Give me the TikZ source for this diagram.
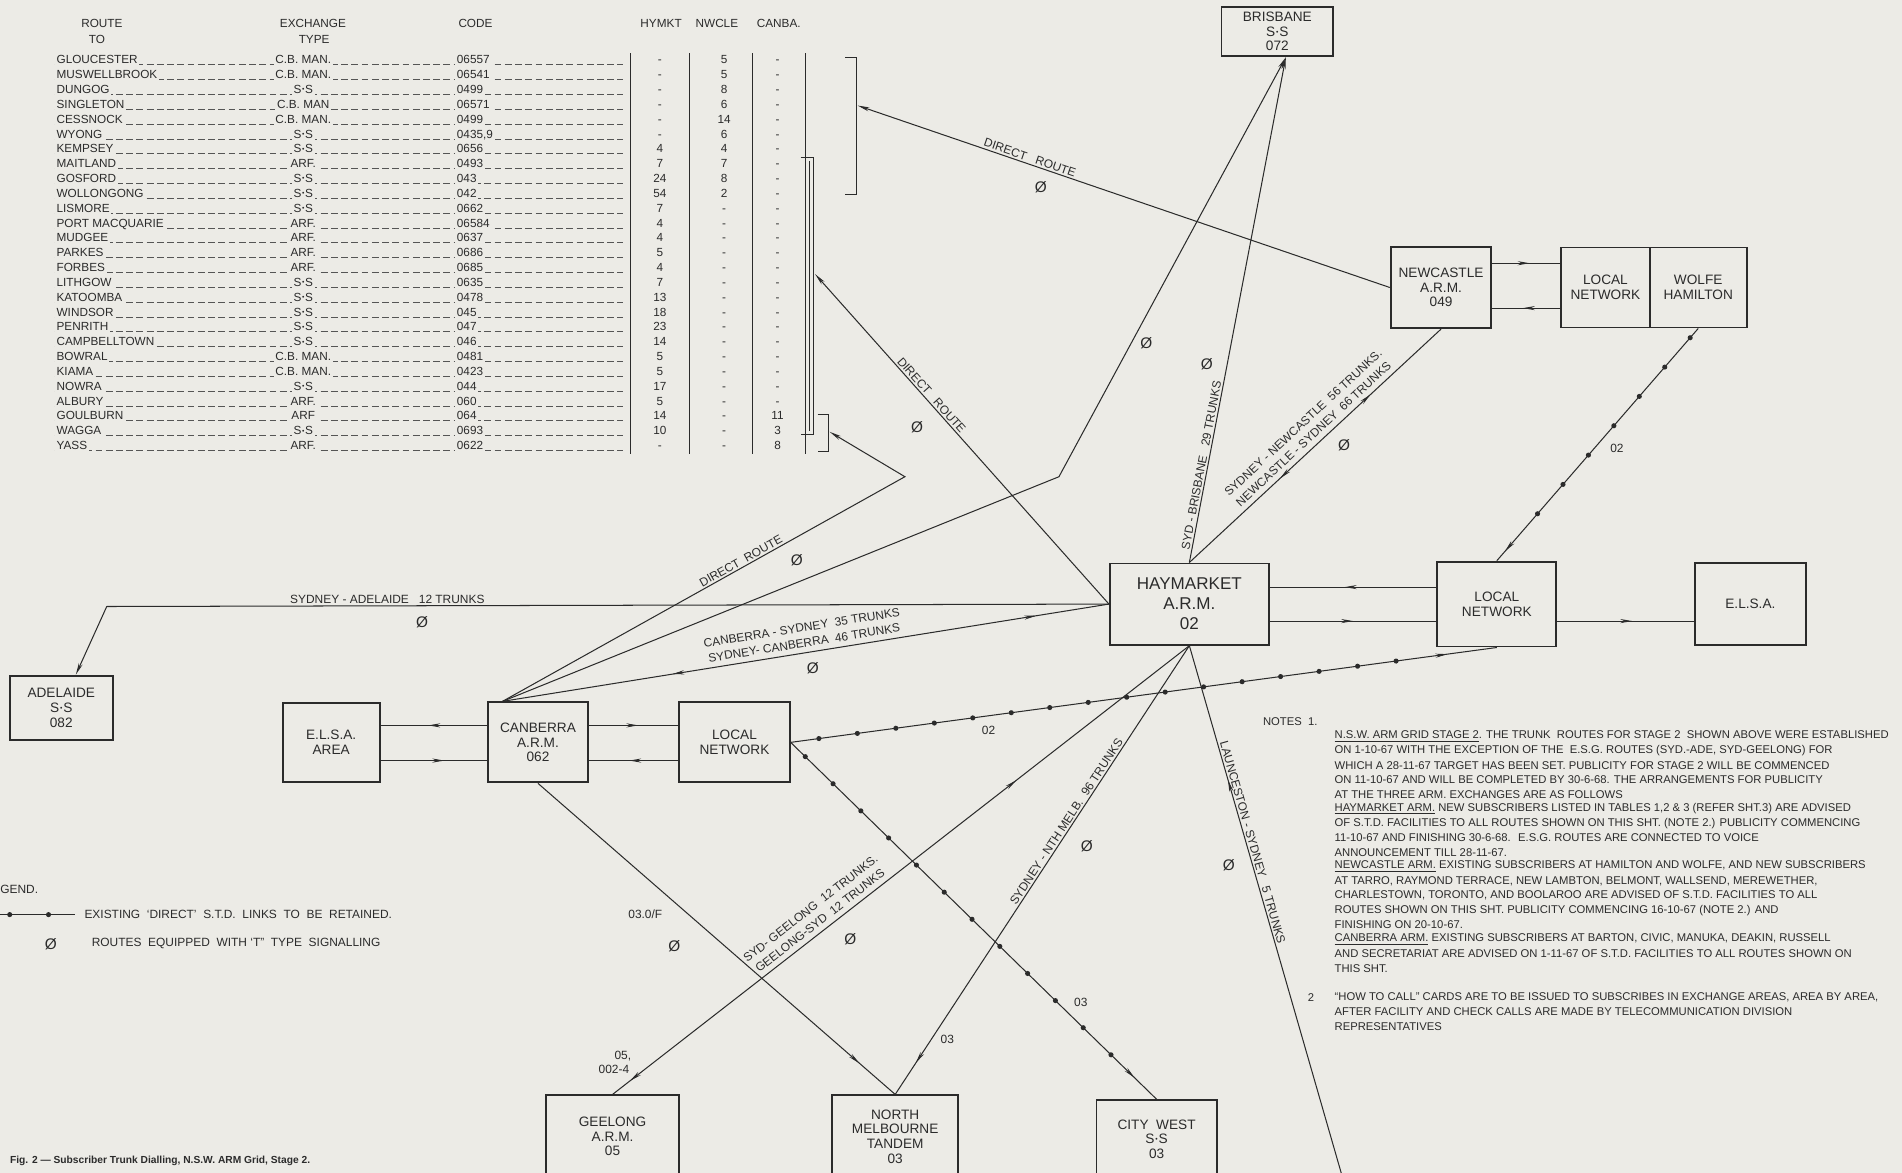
\documentclass[tikz,border=0pt]{standalone}
\usepackage{fontspec}
\setmainfont{Liberation Sans}
\usetikzlibrary{arrows.meta,positioning,calc,decorations.markings}

\definecolor{paper}{HTML}{ECEBE6}
\definecolor{ink}{HTML}{2B2B2B}

\newcommand{\sxs}{S\kern.06em\raisebox{.28ex}{\fontsize{4}{4}\selectfont •}\kern.06em S}
\newcommand{\nul}{{\fontsize{9}{9}\selectfont Ø}}

\tikzset{
  box/.style={draw=ink, line width=1.1pt, align=center, text=ink, inner sep=1pt, font=\fontsize{8}{8.6}\selectfont},
  link/.style={draw=ink, line width=0.6pt},
  endtip/.style={-{Stealth[length=7pt,width=2.4pt]}},
  ar/.style={postaction={decorate,decoration={markings,mark=at position #1 with {\arrow{Stealth[length=7pt,width=2.4pt]}}}}},
  ra/.style={postaction={decorate,decoration={markings,mark=at position #1 with {\arrowreversed{Stealth[length=7pt,width=2.4pt]}}}}},
  dotlink/.style={postaction={decorate,decoration={markings,mark=between positions 0.04 and 0.9 step 0.8cm with {\fill[ink] (0,0) circle (1.5pt);}}}},
  lbl/.style={font=\fontsize{7}{9}\selectfont, text=ink, inner sep=1pt, align=center},
  tbl/.style={font=\fontsize{6.9}{8}\selectfont, text=ink, inner xsep=1pt, inner ysep=0.3pt, text height=5pt, text depth=1.2pt},
  note/.style={font=\fontsize{6.6}{8}\selectfont, text=ink, inner sep=0pt, anchor=west},
  leader/.style={draw=ink!80, line width=0.4pt, dash pattern=on 4pt off 2pt},
}

\begin{document}
\begin{tikzpicture}[x=0.025cm, y=-0.025cm]
  \useasboundingbox (0,0) rectangle (1568,967);
  \fill[paper] (0,0) rectangle (1568,967);

  % Table of routes
  \node[tbl] (hRoute) at (84,20) {ROUTE};
  \node[tbl] (hTo) at (80,33) {TO};
  \node[tbl] (hExch) at (258,20) {EXCHANGE};
  \node[tbl] (hType) at (259,33) {TYPE};
  \node[tbl] (hCode) at (392,20) {CODE};
  \node[tbl] (hHym) at (545,20) {HYMKT};
  \node[tbl] (hNwc) at (591,20) {NWCLE};
  \node[tbl] (hCan) at (642,20) {CANBA.};
  \foreach \nm/\ty/\cd/\hy/\nw/\cb [count=\i from 0] in {
    GLOUCESTER/C.B. MAN./06557/-/5/-,
    MUSWELLBROOK/C.B. MAN./06541/-/5/-,
    DUNGOG/\sxs/0499/-/8/-,
    SINGLETON/C.B. MAN/06571/-/6/-,
    CESSNOCK/C.B. MAN./0499/-/14/-,
    WYONG/\sxs/{0435,9}/-/6/-,
    KEMPSEY/\sxs/0656/4/4/-,
    MAITLAND/ARF./0493/7/7/-,
    GOSFORD/\sxs/043/24/8/-,
    WOLLONGONG/\sxs/042/54/2/-,
    LISMORE/\sxs/0662/7/-/-,
    PORT MACQUARIE/ARF./06584/4/-/-,
    MUDGEE/ARF./0637/4/-/-,
    PARKES/ARF./0686/5/-/-,
    FORBES/ARF./0685/4/-/-,
    LITHGOW/\sxs/0635/7/-/-,
    KATOOMBA/\sxs/0478/13/-/-,
    WINDSOR/\sxs/045/18/-/-,
    PENRITH/\sxs/047/23/-/-,
    CAMPBELLTOWN/\sxs/046/14/-/-,
    BOWRAL/C.B. MAN./0481/5/-/-,
    KIAMA/C.B. MAN./0423/5/-/-,
    NOWRA/\sxs/044/17/-/-,
    ALBURY/ARF./060/5/-/-,
    GOULBURN/ARF/064/14/-/11,
    WAGGA/\sxs/0693/10/-/3,
    YASS/ARF./0622/-/-/8} {
    \pgfmathsetmacro\ry{50+12.23*\i}
    \draw[leader] (45,\ry+3.4) -- (514,\ry+3.4);
    \node[tbl, anchor=west, fill=paper] (rn\i) at (45,\ry) {\nm};
    \node[tbl, fill=paper] (rt\i) at (250,\ry) {\ty};
    \node[tbl, anchor=west, fill=paper] (rc\i) at (375,\ry) {\cd};
    \node[tbl] (rh\i) at (544,\ry) {\hy};
    \node[tbl] (rw\i) at (597,\ry) {\nw};
    \node[tbl] (rb\i) at (641,\ry) {\cb};
  }
  \foreach \x in {520,568,620,664}
    \draw[link, line width=0.5pt] (\x,44) -- (\x,374);

  % brackets
  \draw[link] (697,47) -- (706,47) -- (706,160) -- (697,160);
  \draw[link] (660,130) -- (671,130) -- (671,358) -- (660,358);
  \draw[link] (667,133) -- (667,355);
  \draw[link] (674,342) -- (683,342) -- (683,372) -- (674,372);
  \coordinate (brA) at (707,87);
  \coordinate (brB) at (672,226);
  \coordinate (brC) at (684,356);

  % exchanges
  \node[box, minimum width=2.3cm, minimum height=1.025cm] (brisbane) at (1053,26) {BRISBANE\\\sxs\\072};
  \node[box, minimum width=2.075cm, minimum height=1.675cm] (newcastle) at (1188,237) {NEWCASTLE\\A.R.M.\\049};
  \node[box, minimum width=1.825cm, minimum height=1.65cm] (lnn) at (1323.5,237) {LOCAL\\NETWORK};
  \node[box, minimum width=2cm, minimum height=1.65cm] (wolfe) at (1400,237) {WOLFE\\HAMILTON};
  \node[box, minimum width=3.275cm, minimum height=1.675cm, font=\fontsize{10}{11.7}\selectfont] (haymarket) at (980.5,498) {HAYMARKET\\A.R.M.\\02};
  \node[box, minimum width=2.45cm, minimum height=1.75cm] (lnh) at (1234,498) {LOCAL\\NETWORK};
  \node[box, minimum width=2.3cm, minimum height=1.7cm] (elsa) at (1443,498) {E.L.S.A.};
  \node[box, minimum width=2.125cm, minimum height=1.325cm] (adelaide) at (50.5,583.5) {ADELAIDE\\\sxs\\082};
  \node[box, minimum width=2cm, minimum height=1.625cm] (elsaarea) at (273,612) {E.L.S.A.\\AREA};
  \node[box, minimum width=2.075cm, minimum height=1.65cm] (canberra) at (443.5,612) {CANBERRA\\A.R.M.\\062};
  \node[box, minimum width=2.275cm, minimum height=1.65cm] (lnc) at (605.5,612) {LOCAL\\NETWORK};
  \node[box, minimum width=2.75cm, minimum height=1.7cm] (geelong) at (505,937) {GEELONG\\A.R.M.\\05};
  \node[box, minimum width=2.6cm, minimum height=1.7cm] (nm) at (738,937) {NORTH\\MELBOURNE\\TANDEM\\03};
  \node[box, minimum width=2.475cm, minimum height=1.6cm] (citywest) at (953.5,939) {CITY \ WEST\\\sxs\\03};

  \coordinate (cbr) at ($(canberra.north west)+(13,0)$);
  \coordinate (bsb) at ($(brisbane.south)+(7,0)$);
  \coordinate (bendA) at (746,393);
  \coordinate (bendB) at (873,393);
  \coordinate (adlbend) at (88,500);
  \coordinate (adltop) at ($(adelaide.north)+(12,0)$);
  \coordinate (lncend) at (1108,975);

  % local pairs
  \draw[link, ar=0.55] ([yshift=0.5cm]newcastle.east) -- ([yshift=0.5cm]lnn.west);
  \draw[link, ra=0.45] ([yshift=-0.425cm]newcastle.east) -- ([yshift=-0.425cm]lnn.west);
  \draw[link, ra=0.45] ([yshift=0.35cm]haymarket.east) -- ([yshift=0.35cm]lnh.west);
  \draw[link, ar=0.5] ([yshift=-0.35cm]haymarket.east) -- ([yshift=-0.35cm]lnh.west);
  \draw[link, ar=0.55] ([yshift=-0.35cm]lnh.east) -- ([yshift=-0.35cm]elsa.west);
  \draw[link, ra=0.45] ([yshift=0.35cm]elsaarea.east) -- ([yshift=0.35cm]canberra.west);
  \draw[link, ar=0.6] ([yshift=-0.375cm]elsaarea.east) -- ([yshift=-0.375cm]canberra.west);
  \draw[link, ar=0.55] ([yshift=0.35cm]canberra.east) -- ([yshift=0.35cm]lnc.west);
  \draw[link, ra=0.45] ([yshift=-0.375cm]canberra.east) -- ([yshift=-0.375cm]lnc.west);

  % trunk routes
  \draw[link, endtip] (newcastle.west) -- node[lbl, sloped, above, pos=0.68] (lDirA) {DIRECT \ \ ROUTE} (brA);
  \draw[link, endtip] (haymarket.west) -- node[lbl, sloped, above, pos=0.62] (lDirB) {DIRECT \ \ ROUTE} (brB);
  \draw[link, endtip] (cbr) -- node[lbl, sloped, above, pos=0.6] (lDirC) {DIRECT \ ROUTE} (bendA) -- (brC);
  \draw[link, endtip] (cbr) -- (bendB) -- (bsb);
  \draw[link, ar=0.88, ra=0.28] (cbr) -- node[lbl, sloped, above=2pt, pos=0.5] (lCan) {CANBERRA - SYDNEY \ 35 TRUNKS\\SYDNEY- CANBERRA \ 46 TRUNKS} (haymarket.west);
  \draw[link, endtip] (haymarket.west) -- node[lbl, above, pos=0.72] (lAde) {SYDNEY - ADELAIDE \ \ 12 TRUNKS} (adlbend) -- (adltop);
  \draw[link, endtip] (haymarket.north) -- node[lbl, sloped, above, pos=0.19] (lBri) {SYD - BRISBANE \ \ 29 TRUNKS} (bsb);
  \draw[link, ar=0.72, ra=0.36] (haymarket.north) -- node[lbl, sloped, above=2pt, pos=0.52] (lNew) {SYDNEY - NEWCASTLE \ 56 TRUNKS.\\NEWCASTLE - SYDNEY \ 66 TRUNKS} (newcastle.south);
  \draw[link, ra=0.3, ar=0.97] (haymarket.south) -- node[lbl, sloped, above=2pt, pos=0.63] (lGee) {SYD- GEELONG \ 12 TRUNKS.\\GEELONG-SYD \ 12 TRUNKS} (geelong.north);
  \draw[link, ar=0.93] (haymarket.south) -- node[lbl, sloped, above, pos=0.4] (lNtm) {SYDNEY - NTH MELB. \ 96 TRUNKS} (nm.north);
  \draw[link, ra=0.25] (haymarket.south) -- node[lbl, sloped, above, pos=0.37] (lLau) {LAUNCESTON - SYDNEY \ \ 5 TRUNKS} (lncend);
  \draw[link, ar=0.9] (canberra.south) -- (nm.north);

  % existing direct links
  \draw[link, dotlink, ar=0.96] (wolfe.south) -- (lnh.north);
  \draw[link, dotlink, ar=0.93] (lnc.east) -- (lnh.south);
  \draw[link, dotlink, ar=0.94] (lnc.east) -- (citywest.north);

  % codes and T-signalling marks
  \node[lbl] (c02a) at (1333,370) {02};
  \node[lbl] (c02b) at (815,602) {02};
  \node[lbl] (c03a) at (891,826) {03};
  \node[lbl] (c03b) at (781,857) {03};
  \node[lbl] (c03f) at (532,754) {03.0/F};
  \node[lbl, align=right, font=\fontsize{7}{8.4}\selectfont, anchor=east] (c05) at (522,876) {05,\\002-4\,};
  \foreach \x/\y [count=\k] in {858/154, 756/352, 657/462, 945/283, 995/300, 1108/367, 348/513,
      670/551, 701/774, 896/698, 1013/713, 556/780}
    \node[text=ink, inner sep=0pt] (phi\k) at (\x,\y) {\nul};

  % legend
  \node[lbl, anchor=west, inner sep=0pt] (legend) at (0,733) {GEND.};
  \draw[link] (-2,754) -- (62,754);
  \fill[ink] (8,754) circle (1.5pt) (40,754) circle (1.5pt);
  \node[lbl, anchor=west] (legA) at (68,754) {EXISTING \ `DIRECT' \ S.T.D. \ LINKS \ TO \ BE \ RETAINED.};
  \node[text=ink, inner sep=0pt] (legPhi) at (42,778) {\nul};
  \node[lbl, anchor=west] (legB) at (74,778) {ROUTES \ EQUIPPED \ WITH `T'' \ TYPE \ SIGNALLING};

  % notes
  \node[note] (notes) at (1041,595) {NOTES \ 1.};
  \foreach \nt [count=\i from 0] in {
    {\underline{N.S.W. ARM GRID STAGE 2}. THE TRUNK \ ROUTES FOR STAGE 2 \ SHOWN ABOVE WERE ESTABLISHED},
    {ON 1-10-67 WITH THE EXCEPTION OF THE \ E.S.G. ROUTES (SYD.-ADE, SYD-GEELONG) FOR},
    {WHICH A 28-11-67 TARGET HAS BEEN SET. PUBLICITY FOR STAGE 2 WILL BE COMMENCED},
    {ON 11-10-67 AND WILL BE COMPLETED BY 30-6-68. THE ARRANGEMENTS FOR PUBLICITY},
    {AT THE THREE ARM. EXCHANGES ARE AS FOLLOWS},
    {\underline{HAYMARKET ARM.} NEW SUBSCRIBERS LISTED IN TABLES 1,2 \& 3 (REFER SHT.3) ARE ADVISED},
    {OF S.T.D. FACILITIES TO ALL ROUTES SHOWN ON THIS SHT. (NOTE 2.) PUBLICITY COMMENCING},
    {11-10-67 AND FINISHING 30-6-68. \ E.S.G. ROUTES ARE CONNECTED TO VOICE},
    {ANNOUNCEMENT TILL 28-11-67.},
    {\underline{NEWCASTLE ARM.} EXISTING SUBSCRIBERS AT HAMILTON AND WOLFE, AND NEW SUBSCRIBERS},
    {AT TARRO, RAYMOND TERRACE, NEW LAMBTON, BELMONT, WALLSEND, MEREWETHER,},
    {CHARLESTOWN, TORONTO, AND BOOLAROO ARE ADVISED OF S.T.D. FACILITIES TO ALL},
    {ROUTES SHOWN ON THIS SHT. PUBLICITY COMMENCING 16-10-67 (NOTE 2.) AND},
    {FINISHING ON 20-10-67.},
    {\underline{CANBERRA ARM.} EXISTING SUBSCRIBERS AT BARTON, CIVIC, MANUKA, DEAKIN, RUSSELL},
    {AND SECRETARIAT ARE ADVISED ON 1-11-67 OF S.T.D. FACILITIES TO ALL ROUTES SHOWN ON},
    {THIS SHT.}}
    \node[note] (n1l\i) at (1100,607+11.95*\i) {\nt};
  \node[note] (note2) at (1078,822) {2};
  \foreach \nt [count=\i from 0] in {
    {``HOW TO CALL'' CARDS ARE TO BE ISSUED TO SUBSCRIBES IN EXCHANGE AREAS, AREA BY AREA,},
    {AFTER FACILITY AND CHECK CALLS ARE MADE BY TELECOMMUNICATION DIVISION},
    {REPRESENTATIVES}}
    \node[note] (n2l\i) at (1100,822+12*\i) {\nt};

  \node[anchor=west, text=ink, inner sep=0pt, font=\fontsize{6}{7}\selectfont\bfseries] (caption) at (8,957)
    {Fig. 2 --- Subscriber Trunk Dialling, N.S.W. ARM Grid, Stage 2.};
\end{tikzpicture}
\end{document}
